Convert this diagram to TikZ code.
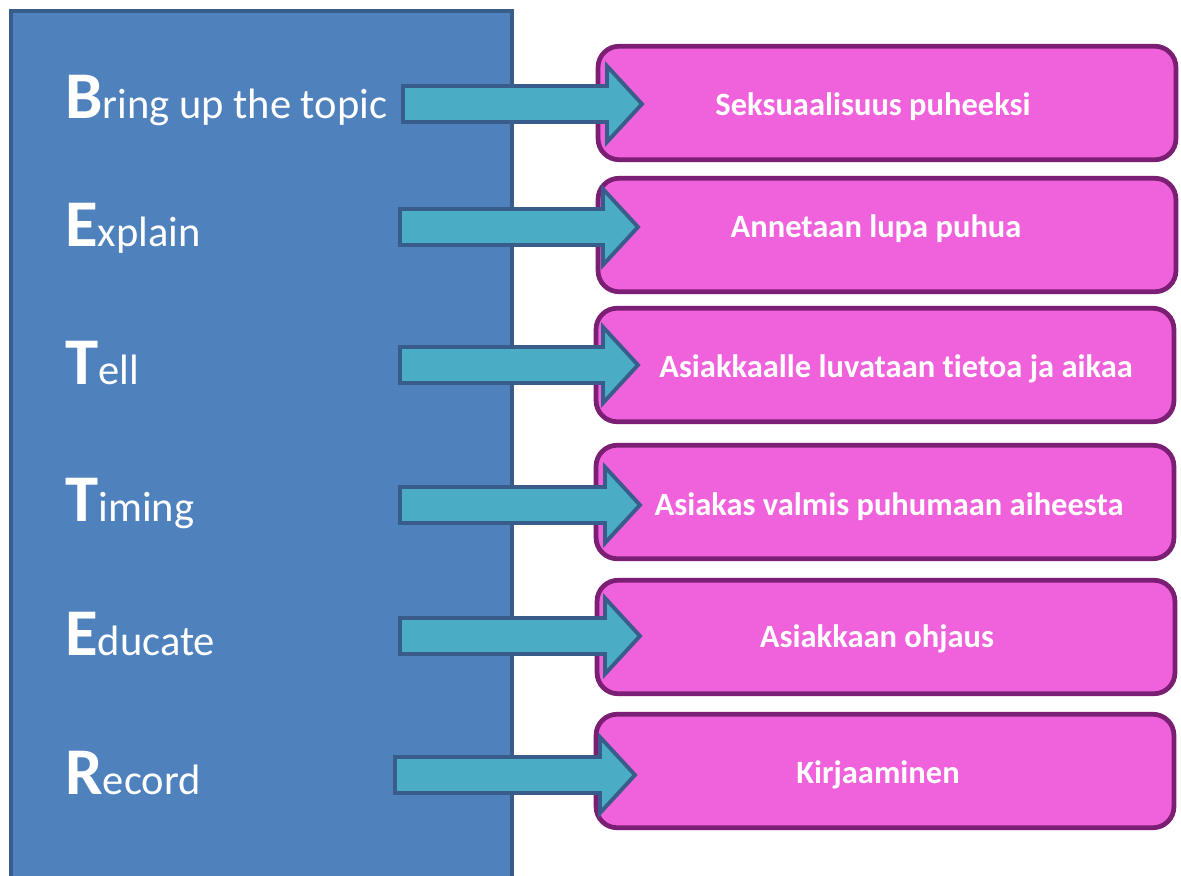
\documentclass[tikz,border=0pt]{standalone}
\usepackage{fontspec}
\setmainfont{Carlito}[Ligatures=NoCommon]
\usetikzlibrary{positioning}
\definecolor{panelblue}{HTML}{4F81BD}
\definecolor{paneledge}{HTML}{385D8A}
\definecolor{arrowcyan}{HTML}{4BACC6}
\definecolor{boxpink}{HTML}{F062DC}
\definecolor{boxedge}{HTML}{7A1F73}
\tikzset{
	panel/.style={fill=panelblue,draw=paneledge,line width=2.2pt},
	stepname/.style={anchor=base west,text=white,inner sep=0pt,font=\fontsize{24.2}{28}\selectfont},
	stepbox/.style={draw=boxedge,fill=boxpink,line width=2.7pt,rounded corners=0.42cm,
		minimum width=11.56cm,minimum height=2.27cm},
	steptext/.style={anchor=base,text=white,inner sep=0pt,font=\bfseries\fontsize{18.5}{22}\selectfont},
	blockarrow/.style={fill=arrowcyan,draw=paneledge,line width=2.2pt,line join=miter}
}
\newcommand{\initial}[1]{{\bfseries\fontsize{38}{44}\selectfont #1}}
\begin{document}
\begin{tikzpicture}[x=0.02cm,y=-0.02cm]
	\useasboundingbox (0,0) rectangle (1181,876);
	%left panel
	\draw[panel] (11,11) rectangle (512,890);
	%step names
	\node[stepname] (bring) at (65,118) {\initial{B}ring up the topic};
	\node[stepname] (explain) at (65,246) {\initial{E}xplain};
	\node[stepname] (tell) at (65,384) {\initial{T}ell};
	\node[stepname] (timing) at (65,521) {\initial{T}iming};
	\node[stepname] (educate) at (65,655) {\initial{E}ducate};
	\node[stepname] (record) at (65,794) {\initial{R}ecord};
	%boxes
	\node[stepbox] (topic) at (887,103) {};
	\node[stepbox] (permit) at (887,235) {};
	\node[stepbox] (info) at (885,365) {};
	\node[stepbox] (ready) at (885,502) {};
	\node[stepbox] (guide) at (886,637) {};
	\node[stepbox] (writing) at (885,771) {};
	%box texts
	\node[steptext] (topictext) at (873,115) {Seksuaalisuus puheeksi};
	\node[steptext] (permittext) at (876,237) {Annetaan lupa puhua};
	\node[steptext] (infotext) at (896,377) {Asiakkaalle luvataan tietoa ja aikaa};
	\node[steptext] (readytext) at (889,515) {Asiakas valmis puhumaan aiheesta};
	\node[steptext] (guidetext) at (877,647) {Asiakkaan ohjaus};
	\node[steptext] (writingtext) at (878,783) {Kirjaaminen};
	%arrows: start x, tip x, centre y
	\foreach \sx/\tx/\cy in {403/642/104,400/638/227,400/638/365,
		400/640/505,400/640/636,395/635/775}
		\draw[blockarrow] (\sx,\cy-18) -- (\tx-35,\cy-18) -- (\tx-35,\cy-38) -- (\tx,\cy)
			-- (\tx-35,\cy+38) -- (\tx-35,\cy+18) -- (\sx,\cy+18) -- cycle;
\end{tikzpicture}
\end{document}
